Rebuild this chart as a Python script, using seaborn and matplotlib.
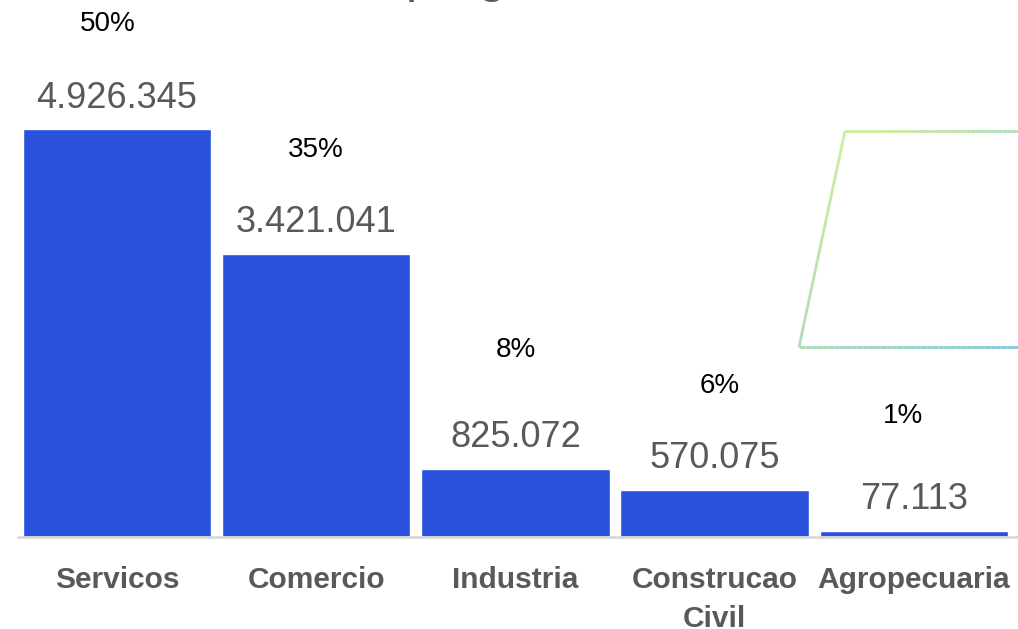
import numpy as np
import pandas as pd
import seaborn as sns
import matplotlib.pyplot as plt
from matplotlib.collections import LineCollection
from matplotlib.lines import Line2D

sectors = ["Servicos", "Comercio", "Industria", "Construcao\nCivil", "Agropecuaria"]
jobs = [4926345, 3421041, 825072, 570075, 77113]
shares = [50, 35, 8, 6, 1]
title = "Empregos"

sns.set_theme(style="white")
plt.rcParams["font.family"] = ["Liberation Sans", "DejaVu Sans"]

df = pd.DataFrame({"setor": sectors, "empregos": jobs})

W, H = 1018, 629
fig = plt.figure(figsize=(W / 100, H / 100), dpi=100)
# axes placed so bars line up with the reference (pixels -> figure fraction)
ax = fig.add_axes([17.4 / W, (H - 537) / H, 996 / W, 408 / H])

sns.barplot(data=df, x="setor", y="empregos", color="#2951DC", saturation=1,
            width=0.945, ax=ax)
ax.set_xlim(-0.5, 4.5)
ax.set_ylim(0, max(jobs))
ax.set_xlabel("")
ax.set_ylabel("")
ax.set_yticks([])
sns.despine(ax=ax, left=True, bottom=True)
ax.tick_params(axis="x", length=0, pad=21)
for lab in ax.get_xticklabels():
    lab.set_fontsize(21.5)
    lab.set_fontweight("bold")
    lab.set_color("#595959")
    lab.set_linespacing(1.5)
    lab.set_verticalalignment("top")

# grey baseline
fig.add_artist(Line2D([18 / W, 1], [(H - 537) / H] * 2, color="#D9D9D9", lw=2))

px = 72 / 100  # pixels -> points
pct_dy = [105, 104, 119, 104, 115]
pct_dx = [-9, 0, 0, 5, -11]
for i, (v, s) in enumerate(zip(jobs, shares)):
    ax.annotate(f"{v:,}".replace(",", "."), (i, v), xytext=(0, 31 * px),
                textcoords="offset points", ha="center", va="center",
                fontsize=26, color="#595959", annotation_clip=False)
    ax.annotate(f"{s}%", (i, v), xytext=(pct_dx[i] * px, pct_dy[i] * px),
                textcoords="offset points", ha="center", va="center",
                fontsize=20, color="black", annotation_clip=False)

# title mostly cut off at the top, only descenders visible
fig.text(332 / W, 1 + 8 / H, title, fontsize=36, color="#595959",
         ha="left", va="baseline")

# decorative gradient parallelogram, clipped at right edge
pts = [(845, 131), (1030, 131), (1030, 347), (799, 347), (845, 131)]
c0 = np.array([0.85, 0.95, 0.55])
c1 = np.array([0.50, 0.78, 0.87])
segs, cols = [], []
for (xa, ya), (xb, yb) in zip(pts[:-1], pts[1:]):
    for t in np.linspace(0, 1, 40, endpoint=False):
        x0, y0 = xa + (xb - xa) * t, ya + (yb - ya) * t
        x1, y1 = xa + (xb - xa) * (t + 1 / 40), ya + (yb - ya) * (t + 1 / 40)
        segs.append([(x0 / W, 1 - y0 / H), (x1 / W, 1 - y1 / H)])
        f = ((x0 - 799) / 220 + (y0 - 131) / 216) / 2
        cols.append(np.clip(c0 + (c1 - c0) * f, 0, 1))
lc = LineCollection(segs, colors=cols, linewidths=2, transform=fig.transFigure)
fig.add_artist(lc)

fig.savefig("out.png", dpi=100)
